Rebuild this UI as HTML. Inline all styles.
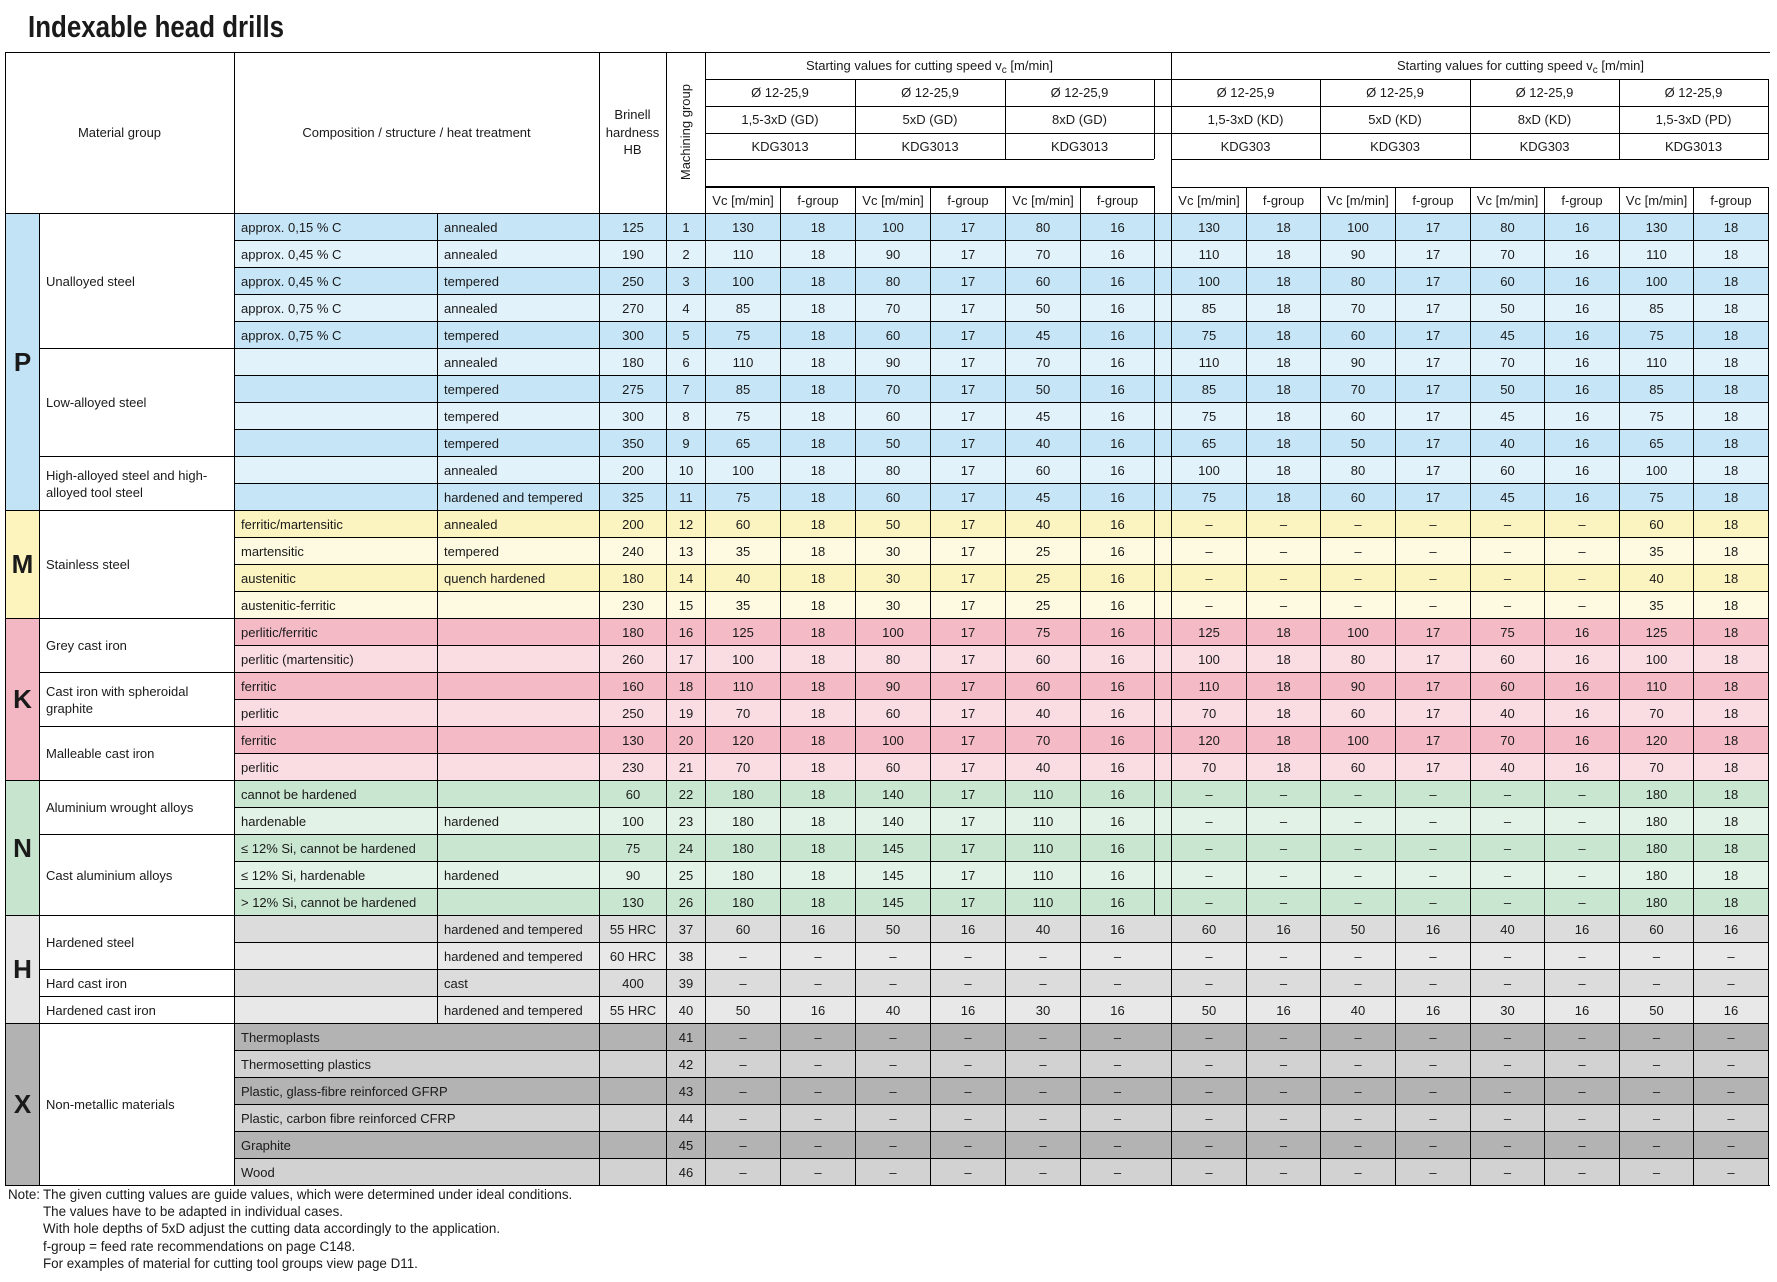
<!DOCTYPE html>
<html><head><meta charset="utf-8">
<style>
body{margin:0;width:1777px;height:1282px;background:#fff;position:relative;overflow:hidden;font-family:"Liberation Sans",Arial,sans-serif;font-size:13px;color:#1a1a1a}
i{font-style:normal}
.t{position:absolute;left:28px;top:11px;font-size:31px;font-weight:bold;line-height:31px;transform:scaleX(.835);transform-origin:0 0;white-space:nowrap;color:#1a1a1a}
.h{position:absolute;height:1px;background:#000}
.v{position:absolute;width:1px;background:#000}
.c{position:absolute;display:flex;align-items:center;justify-content:center;text-align:center;white-space:nowrap}
.r{position:absolute;left:234px;width:1535px;height:27px;display:flex;box-sizing:border-box;border-top:1px solid #000;border-right:1px solid #000}
.q{position:absolute;left:705px;top:187px;width:1064px;height:26px;display:flex;box-sizing:border-box;border-right:1px solid #000;background:#fff}
.r>i,.q>i{box-sizing:border-box;border-left:1px solid #000;display:flex;align-items:center;justify-content:center;flex:none;white-space:nowrap;height:100%;width:75px}
.r>i:nth-child(1){width:203px;justify-content:flex-start;padding-left:6px}
.r>i:nth-child(2){width:162px;justify-content:flex-start;padding-left:6px}
.r>i:nth-child(3){width:67px}
.r>i:nth-child(4){width:39px}
.r>i:nth-child(10),.r>i:nth-child(13),.r>i:nth-child(16),.r>i:nth-child(18){width:74px}
.r>i:nth-child(11){width:17px}
.q>i:nth-child(6),.q>i:nth-child(9),.q>i:nth-child(12),.q>i:nth-child(14){width:74px}
.q>i:nth-child(7){width:17px}
.r>i.n{border-left:none}
.g{position:absolute;left:39px;width:195px;box-sizing:border-box;border-left:1px solid #000;border-top:1px solid #000;display:flex;align-items:center;padding-left:6px;line-height:17px;background:#fff}
.L{position:absolute;left:5px;width:34px;box-sizing:border-box;border-left:1px solid #000;border-top:1px solid #000;display:flex;align-items:center;justify-content:center;font-weight:bold;font-size:26px}
.p1{background:#c6e5f7}.p2{background:#e2f2fb}
.m1{background:#fcf4c0}.m2{background:#fefae1}
.k1{background:#f4bbc7}.k2{background:#f9dde3}
.n1{background:#c9e6d1}.n2{background:#e3f2e6}
.h1{background:#dcdcdc}.h2{background:#e8e8e8}
.x1{background:#b3b3b3}.x2{background:#d2d2d2}
.sb{font-size:10px;position:relative;top:3px}
.note{position:absolute;left:43px;top:1186px;line-height:17.2px;font-size:13.4px;white-space:nowrap}
</style></head><body>
<div class="t">Indexable head drills</div>

<!-- header text -->
<div class="c" style="left:5px;top:52px;width:229px;height:161px">Material group</div>
<div class="c" style="left:234px;top:52px;width:365px;height:161px">Composition / structure / heat treatment</div>
<div class="c" style="left:599px;top:52px;width:67px;height:161px;line-height:17.6px">Brinell<br>hardness<br>HB</div>
<div class="c" style="left:666px;top:52px;width:39px;height:161px"><span style="writing-mode:vertical-rl;transform:rotate(180deg)">Machining group</span></div>

<div class="c" style="left:705px;top:52px;width:449px;height:27px"><span>Starting values for cutting speed v<span class="sb">c</span> [m/min]</span></div>
<div class="c" style="left:1273px;top:52px;width:495px;height:27px"><span>Starting values for cutting speed v<span class="sb">c</span> [m/min]</span></div>

<div class="c" style="left:705px;top:79px;width:150px;height:27px">Ø 12-25,9</div>
<div class="c" style="left:855px;top:79px;width:150px;height:27px">Ø 12-25,9</div>
<div class="c" style="left:1005px;top:79px;width:149px;height:27px">Ø 12-25,9</div>
<div class="c" style="left:705px;top:106px;width:150px;height:27px">1,5-3xD (GD)</div>
<div class="c" style="left:855px;top:106px;width:150px;height:27px">5xD (GD)</div>
<div class="c" style="left:1005px;top:106px;width:149px;height:27px">8xD (GD)</div>
<div class="c" style="left:705px;top:133px;width:150px;height:26px">KDG3013</div>
<div class="c" style="left:855px;top:133px;width:150px;height:26px">KDG3013</div>
<div class="c" style="left:1005px;top:133px;width:149px;height:26px">KDG3013</div>

<div class="c" style="left:1171px;top:79px;width:149px;height:27px">Ø 12-25,9</div>
<div class="c" style="left:1320px;top:79px;width:150px;height:27px">Ø 12-25,9</div>
<div class="c" style="left:1470px;top:79px;width:149px;height:27px">Ø 12-25,9</div>
<div class="c" style="left:1619px;top:79px;width:149px;height:27px">Ø 12-25,9</div>
<div class="c" style="left:1171px;top:106px;width:149px;height:27px">1,5-3xD (KD)</div>
<div class="c" style="left:1320px;top:106px;width:150px;height:27px">5xD (KD)</div>
<div class="c" style="left:1470px;top:106px;width:149px;height:27px">8xD (KD)</div>
<div class="c" style="left:1619px;top:106px;width:149px;height:27px">1,5-3xD (PD)</div>
<div class="c" style="left:1171px;top:133px;width:149px;height:26px">KDG303</div>
<div class="c" style="left:1320px;top:133px;width:150px;height:26px">KDG303</div>
<div class="c" style="left:1470px;top:133px;width:149px;height:26px">KDG303</div>
<div class="c" style="left:1619px;top:133px;width:149px;height:26px">KDG3013</div>

<div class="q"><i>Vc [m/min]</i><i>f-group</i><i>Vc [m/min]</i><i>f-group</i><i>Vc [m/min]</i><i>f-group</i><i></i><i>Vc [m/min]</i><i>f-group</i><i>Vc [m/min]</i><i>f-group</i><i>Vc [m/min]</i><i>f-group</i><i>Vc [m/min]</i><i>f-group</i></div>

<!-- header lines -->
<div class="h" style="left:5px;top:52px;width:1765px"></div>
<div class="v" style="left:5px;top:52px;height:1134px"></div>
<div class="v" style="left:234px;top:52px;height:161px"></div>
<div class="v" style="left:599px;top:52px;height:161px"></div>
<div class="v" style="left:666px;top:52px;height:161px"></div>
<div class="v" style="left:705px;top:52px;height:161px"></div>
<div class="v" style="left:1171px;top:52px;height:161px"></div>
<div class="h" style="left:705px;top:79px;width:1064px"></div>
<div class="h" style="left:705px;top:106px;width:1064px"></div>
<div class="h" style="left:705px;top:133px;width:1064px"></div>
<div class="h" style="left:705px;top:159px;width:449px"></div>
<div class="h" style="left:1171px;top:159px;width:598px"></div>
<div class="h" style="left:705px;top:186px;width:450px;height:2px"></div>
<div class="h" style="left:1171px;top:187px;width:598px"></div>
<div class="v" style="left:855px;top:79px;height:80px"></div>
<div class="v" style="left:1005px;top:79px;height:80px"></div>
<div class="v" style="left:1154px;top:79px;height:80px"></div>
<div class="v" style="left:1320px;top:79px;height:80px"></div>
<div class="v" style="left:1470px;top:79px;height:80px"></div>
<div class="v" style="left:1619px;top:79px;height:80px"></div>
<div class="v" style="left:1768px;top:79px;height:80px"></div>

<!-- letter column -->
<div class="L p1" style="top:213px;height:297px;background:#c2e3f6">P</div>
<div class="L" style="top:510px;height:108px;background:#fcf3bd">M</div>
<div class="L" style="top:618px;height:162px;background:#f3b7c4">K</div>
<div class="L" style="top:780px;height:135px;background:#c6e4ce">N</div>
<div class="L" style="top:915px;height:108px;background:#e5e5e5">H</div>
<div class="L" style="top:1023px;height:162px;background:#b2b2b2">X</div>

<!-- material group column -->
<div class="g" style="top:213px;height:135px">Unalloyed steel</div>
<div class="g" style="top:348px;height:108px">Low-alloyed steel</div>
<div class="g" style="top:456px;height:54px">High-alloyed steel and high-<br>alloyed tool steel</div>
<div class="g" style="top:510px;height:108px">Stainless steel</div>
<div class="g" style="top:618px;height:54px">Grey cast iron</div>
<div class="g" style="top:672px;height:54px">Cast iron with spheroidal<br>graphite</div>
<div class="g" style="top:726px;height:54px">Malleable cast iron</div>
<div class="g" style="top:780px;height:54px">Aluminium wrought alloys</div>
<div class="g" style="top:834px;height:81px">Cast aluminium alloys</div>
<div class="g" style="top:915px;height:54px">Hardened steel</div>
<div class="g" style="top:969px;height:27px">Hard cast iron</div>
<div class="g" style="top:996px;height:27px">Hardened cast iron</div>
<div class="g" style="top:1023px;height:162px">Non-metallic materials</div>

<!-- data rows -->
<div class="r p1" style="top:213px"><i>approx. 0,15 % C</i><i>annealed</i><i>125</i><i>1</i><i>130</i><i>18</i><i>100</i><i>17</i><i>80</i><i>16</i><i></i><i>130</i><i>18</i><i>100</i><i>17</i><i>80</i><i>16</i><i>130</i><i>18</i></div>
<div class="r p2" style="top:240px"><i>approx. 0,45 % C</i><i>annealed</i><i>190</i><i>2</i><i>110</i><i>18</i><i>90</i><i>17</i><i>70</i><i>16</i><i></i><i>110</i><i>18</i><i>90</i><i>17</i><i>70</i><i>16</i><i>110</i><i>18</i></div>
<div class="r p1" style="top:267px"><i>approx. 0,45 % C</i><i>tempered</i><i>250</i><i>3</i><i>100</i><i>18</i><i>80</i><i>17</i><i>60</i><i>16</i><i></i><i>100</i><i>18</i><i>80</i><i>17</i><i>60</i><i>16</i><i>100</i><i>18</i></div>
<div class="r p2" style="top:294px"><i>approx. 0,75 % C</i><i>annealed</i><i>270</i><i>4</i><i>85</i><i>18</i><i>70</i><i>17</i><i>50</i><i>16</i><i></i><i>85</i><i>18</i><i>70</i><i>17</i><i>50</i><i>16</i><i>85</i><i>18</i></div>
<div class="r p1" style="top:321px"><i>approx. 0,75 % C</i><i>tempered</i><i>300</i><i>5</i><i>75</i><i>18</i><i>60</i><i>17</i><i>45</i><i>16</i><i></i><i>75</i><i>18</i><i>60</i><i>17</i><i>45</i><i>16</i><i>75</i><i>18</i></div>
<div class="r p2" style="top:348px"><i></i><i>annealed</i><i>180</i><i>6</i><i>110</i><i>18</i><i>90</i><i>17</i><i>70</i><i>16</i><i></i><i>110</i><i>18</i><i>90</i><i>17</i><i>70</i><i>16</i><i>110</i><i>18</i></div>
<div class="r p1" style="top:375px"><i></i><i>tempered</i><i>275</i><i>7</i><i>85</i><i>18</i><i>70</i><i>17</i><i>50</i><i>16</i><i></i><i>85</i><i>18</i><i>70</i><i>17</i><i>50</i><i>16</i><i>85</i><i>18</i></div>
<div class="r p2" style="top:402px"><i></i><i>tempered</i><i>300</i><i>8</i><i>75</i><i>18</i><i>60</i><i>17</i><i>45</i><i>16</i><i></i><i>75</i><i>18</i><i>60</i><i>17</i><i>45</i><i>16</i><i>75</i><i>18</i></div>
<div class="r p1" style="top:429px"><i></i><i>tempered</i><i>350</i><i>9</i><i>65</i><i>18</i><i>50</i><i>17</i><i>40</i><i>16</i><i></i><i>65</i><i>18</i><i>50</i><i>17</i><i>40</i><i>16</i><i>65</i><i>18</i></div>
<div class="r p2" style="top:456px"><i></i><i>annealed</i><i>200</i><i>10</i><i>100</i><i>18</i><i>80</i><i>17</i><i>60</i><i>16</i><i></i><i>100</i><i>18</i><i>80</i><i>17</i><i>60</i><i>16</i><i>100</i><i>18</i></div>
<div class="r p1" style="top:483px"><i></i><i>hardened and tempered</i><i>325</i><i>11</i><i>75</i><i>18</i><i>60</i><i>17</i><i>45</i><i>16</i><i></i><i>75</i><i>18</i><i>60</i><i>17</i><i>45</i><i>16</i><i>75</i><i>18</i></div>
<div class="r m1" style="top:510px"><i>ferritic/martensitic</i><i>annealed</i><i>200</i><i>12</i><i>60</i><i>18</i><i>50</i><i>17</i><i>40</i><i>16</i><i></i><i>–</i><i>–</i><i>–</i><i>–</i><i>–</i><i>–</i><i>60</i><i>18</i></div>
<div class="r m2" style="top:537px"><i>martensitic</i><i>tempered</i><i>240</i><i>13</i><i>35</i><i>18</i><i>30</i><i>17</i><i>25</i><i>16</i><i></i><i>–</i><i>–</i><i>–</i><i>–</i><i>–</i><i>–</i><i>35</i><i>18</i></div>
<div class="r m1" style="top:564px"><i>austenitic</i><i>quench hardened</i><i>180</i><i>14</i><i>40</i><i>18</i><i>30</i><i>17</i><i>25</i><i>16</i><i></i><i>–</i><i>–</i><i>–</i><i>–</i><i>–</i><i>–</i><i>40</i><i>18</i></div>
<div class="r m2" style="top:591px"><i>austenitic-ferritic</i><i></i><i>230</i><i>15</i><i>35</i><i>18</i><i>30</i><i>17</i><i>25</i><i>16</i><i></i><i>–</i><i>–</i><i>–</i><i>–</i><i>–</i><i>–</i><i>35</i><i>18</i></div>
<div class="r k1" style="top:618px"><i>perlitic/ferritic</i><i></i><i>180</i><i>16</i><i>125</i><i>18</i><i>100</i><i>17</i><i>75</i><i>16</i><i></i><i>125</i><i>18</i><i>100</i><i>17</i><i>75</i><i>16</i><i>125</i><i>18</i></div>
<div class="r k2" style="top:645px"><i>perlitic (martensitic)</i><i></i><i>260</i><i>17</i><i>100</i><i>18</i><i>80</i><i>17</i><i>60</i><i>16</i><i></i><i>100</i><i>18</i><i>80</i><i>17</i><i>60</i><i>16</i><i>100</i><i>18</i></div>
<div class="r k1" style="top:672px"><i>ferritic</i><i></i><i>160</i><i>18</i><i>110</i><i>18</i><i>90</i><i>17</i><i>60</i><i>16</i><i></i><i>110</i><i>18</i><i>90</i><i>17</i><i>60</i><i>16</i><i>110</i><i>18</i></div>
<div class="r k2" style="top:699px"><i>perlitic</i><i></i><i>250</i><i>19</i><i>70</i><i>18</i><i>60</i><i>17</i><i>40</i><i>16</i><i></i><i>70</i><i>18</i><i>60</i><i>17</i><i>40</i><i>16</i><i>70</i><i>18</i></div>
<div class="r k1" style="top:726px"><i>ferritic</i><i></i><i>130</i><i>20</i><i>120</i><i>18</i><i>100</i><i>17</i><i>70</i><i>16</i><i></i><i>120</i><i>18</i><i>100</i><i>17</i><i>70</i><i>16</i><i>120</i><i>18</i></div>
<div class="r k2" style="top:753px"><i>perlitic</i><i></i><i>230</i><i>21</i><i>70</i><i>18</i><i>60</i><i>17</i><i>40</i><i>16</i><i></i><i>70</i><i>18</i><i>60</i><i>17</i><i>40</i><i>16</i><i>70</i><i>18</i></div>
<div class="r n1" style="top:780px"><i>cannot be hardened</i><i></i><i>60</i><i>22</i><i>180</i><i>18</i><i>140</i><i>17</i><i>110</i><i>16</i><i></i><i>–</i><i>–</i><i>–</i><i>–</i><i>–</i><i>–</i><i>180</i><i>18</i></div>
<div class="r n2" style="top:807px"><i>hardenable</i><i>hardened</i><i>100</i><i>23</i><i>180</i><i>18</i><i>140</i><i>17</i><i>110</i><i>16</i><i></i><i>–</i><i>–</i><i>–</i><i>–</i><i>–</i><i>–</i><i>180</i><i>18</i></div>
<div class="r n1" style="top:834px"><i>≤ 12% Si, cannot be hardened</i><i></i><i>75</i><i>24</i><i>180</i><i>18</i><i>145</i><i>17</i><i>110</i><i>16</i><i></i><i>–</i><i>–</i><i>–</i><i>–</i><i>–</i><i>–</i><i>180</i><i>18</i></div>
<div class="r n2" style="top:861px"><i>≤ 12% Si, hardenable</i><i>hardened</i><i>90</i><i>25</i><i>180</i><i>18</i><i>145</i><i>17</i><i>110</i><i>16</i><i></i><i>–</i><i>–</i><i>–</i><i>–</i><i>–</i><i>–</i><i>180</i><i>18</i></div>
<div class="r n1" style="top:888px"><i>&gt; 12% Si, cannot be hardened</i><i></i><i>130</i><i>26</i><i>180</i><i>18</i><i>145</i><i>17</i><i>110</i><i>16</i><i></i><i>–</i><i>–</i><i>–</i><i>–</i><i>–</i><i>–</i><i>180</i><i>18</i></div>
<div class="r h1" style="top:915px"><i></i><i>hardened and tempered</i><i>55 HRC</i><i>37</i><i>60</i><i>16</i><i>50</i><i>16</i><i>40</i><i>16</i><i class="n"></i><i>60</i><i>16</i><i>50</i><i>16</i><i>40</i><i>16</i><i>60</i><i>16</i></div>
<div class="r h2" style="top:942px"><i></i><i>hardened and tempered</i><i>60 HRC</i><i>38</i><i>–</i><i>–</i><i>–</i><i>–</i><i>–</i><i>–</i><i class="n"></i><i>–</i><i>–</i><i>–</i><i>–</i><i>–</i><i>–</i><i>–</i><i>–</i></div>
<div class="r h1" style="top:969px"><i></i><i>cast</i><i>400</i><i>39</i><i>–</i><i>–</i><i>–</i><i>–</i><i>–</i><i>–</i><i class="n"></i><i>–</i><i>–</i><i>–</i><i>–</i><i>–</i><i>–</i><i>–</i><i>–</i></div>
<div class="r h2" style="top:996px"><i></i><i>hardened and tempered</i><i>55 HRC</i><i>40</i><i>50</i><i>16</i><i>40</i><i>16</i><i>30</i><i>16</i><i class="n"></i><i>50</i><i>16</i><i>40</i><i>16</i><i>30</i><i>16</i><i>50</i><i>16</i></div>
<div class="r x1" style="top:1023px"><i>Thermoplasts</i><i class="n"></i><i></i><i>41</i><i>–</i><i>–</i><i>–</i><i>–</i><i>–</i><i>–</i><i class="n"></i><i>–</i><i>–</i><i>–</i><i>–</i><i>–</i><i>–</i><i>–</i><i>–</i></div>
<div class="r x2" style="top:1050px"><i>Thermosetting plastics</i><i class="n"></i><i></i><i>42</i><i>–</i><i>–</i><i>–</i><i>–</i><i>–</i><i>–</i><i class="n"></i><i>–</i><i>–</i><i>–</i><i>–</i><i>–</i><i>–</i><i>–</i><i>–</i></div>
<div class="r x1" style="top:1077px"><i>Plastic, glass-fibre reinforced GFRP</i><i class="n"></i><i></i><i>43</i><i>–</i><i>–</i><i>–</i><i>–</i><i>–</i><i>–</i><i class="n"></i><i>–</i><i>–</i><i>–</i><i>–</i><i>–</i><i>–</i><i>–</i><i>–</i></div>
<div class="r x2" style="top:1104px"><i>Plastic, carbon fibre reinforced CFRP</i><i class="n"></i><i></i><i>44</i><i>–</i><i>–</i><i>–</i><i>–</i><i>–</i><i>–</i><i class="n"></i><i>–</i><i>–</i><i>–</i><i>–</i><i>–</i><i>–</i><i>–</i><i>–</i></div>
<div class="r x1" style="top:1131px"><i>Graphite</i><i class="n"></i><i></i><i>45</i><i>–</i><i>–</i><i>–</i><i>–</i><i>–</i><i>–</i><i class="n"></i><i>–</i><i>–</i><i>–</i><i>–</i><i>–</i><i>–</i><i>–</i><i>–</i></div>
<div class="r x2" style="top:1158px"><i>Wood</i><i class="n"></i><i></i><i>46</i><i>–</i><i>–</i><i>–</i><i>–</i><i>–</i><i>–</i><i class="n"></i><i>–</i><i>–</i><i>–</i><i>–</i><i>–</i><i>–</i><i>–</i><i>–</i></div>

<div class="h" style="left:5px;top:1185px;width:1765px"></div>

<!-- notes -->
<div style="position:absolute;left:8px;top:1186px;line-height:17.2px;font-size:13.4px;white-space:nowrap">Note:</div>
<div class="note">The given cutting values are guide values, which were determined under ideal conditions.<br>The values have to be adapted in individual cases.<br>With hole depths of 5xD adjust the cutting data accordingly to the application.<br>f-group = feed rate recommendations on page C148.<br>For examples of material for cutting tool groups view page D11.</div>
</body></html>
